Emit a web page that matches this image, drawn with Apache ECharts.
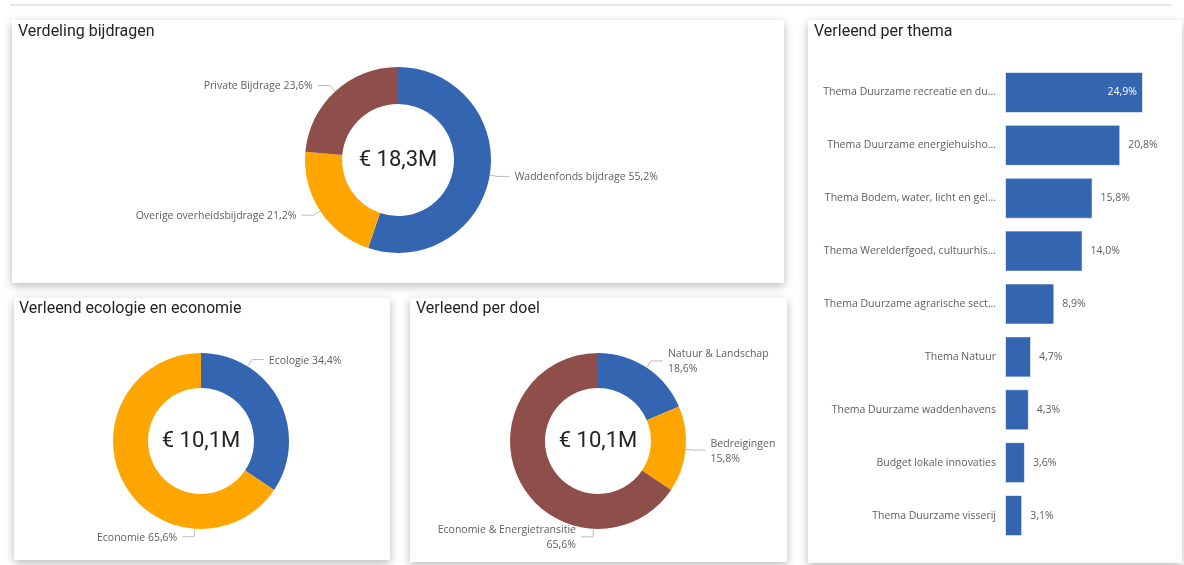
<!DOCTYPE html>
<html>
<head>
<meta charset="utf-8">
<title>Verleend overzicht</title>
<script src="https://cdn.jsdelivr.net/npm/echarts@6/dist/echarts.min.js"></script>
<style>
  html, body { margin: 0; padding: 0; background: #fff; }
  #main { width: 1184px; height: 565px; }
</style>
</head>
<body>
<div id="main"></div>
<script>
  // Verdeling bijdragen (percentages)
  var bijdrageNames = ['Waddenfonds bijdrage', 'Overige overheidsbijdrage', 'Private Bijdrage'];
  var bijdragePct = [55.2, 21.2, 23.6];
  var bijdrageTotal = 18.3;

  // Verleend ecologie en economie
  var ecoNames = ['Ecologie', 'Economie'];
  var ecoPct = [34.4, 65.6];
  var ecoTotal = 10.1;

  // Verleend per doel
  var doelNames = ['Natuur & Landschap', 'Bedreigingen', 'Economie & Energietransitie'];
  var doelPct = [18.6, 15.8, 65.6];
  var doelTotal = 10.1;

  // Verleend per thema
  var themaNames = [
    'Thema Duurzame recreatie en du...',
    'Thema Duurzame energiehuisho...',
    'Thema Bodem, water, licht en gel...',
    'Thema Werelderfgoed, cultuurhis...',
    'Thema Duurzame agrarische sect...',
    'Thema Natuur',
    'Thema Duurzame waddenhavens',
    'Budget lokale innovaties',
    'Thema Duurzame visserij'
  ];
  var themaPct = [24.9, 20.8, 15.8, 14.0, 8.9, 4.7, 4.3, 3.6, 3.1];

  var BLUE = '#3465B0', ORANGE = '#FFA500', BROWN = '#8E4F4A';
  var LABEL_GREY = '#605E5C', TITLE_COL = '#252423';
  var labelFont = '"Open Sans", "Noto Sans", sans-serif';
  var titleFont = 'Roboto, "Noto Sans", sans-serif';

  function nl(v) { return v.toFixed(1).replace('.', ','); }
  function money(v) { return '€ ' + nl(v) + 'M'; }

  // label placement like Power BI: anchor on the ring, short elbow, horizontal tail
  function ringLabels(cx, cy, r, vals, anchors) {
    var total = vals.reduce(function (a, b) { return a + b; }, 0);
    return function (p) {
      var i = p.dataIndex;
      var a = anchors && anchors[i] != null ? anchors[i] : null;
      if (a == null) {
        var before = 0;
        for (var k = 0; k < i; k++) before += vals[k];
        a = (before + vals[i] / 2) / total * 360;
      }
      var rad = a * Math.PI / 180, s = Math.sin(rad), c = Math.cos(rad);
      var p1 = [cx + r * s, cy - r * c];
      var p2 = [cx + (r + 8) * s, cy - (r + 8) * c];
      var dir = s > 0 ? 1 : -1;
      var p3 = [p2[0] + dir * 12, p2[1]];
      return {
        x: p3[0] + dir * 5, y: p3[1] + 1,
        align: dir > 0 ? 'left' : 'right', verticalAlign: 'middle',
        labelLinePoints: [p1, p2, p3]
      };
    };
  }

  function donut(names, vals, colors, center, radius, fmt, anchors) {
    return {
      type: 'pie',
      center: center,
      radius: radius,
      startAngle: 90,
      silent: true,
      avoidLabelOverlap: false,
      data: names.map(function (n, i) {
        return { name: n, value: vals[i], itemStyle: { color: colors[i] } };
      }),
      label: {
        show: true, position: 'outside',
        color: LABEL_GREY, fontFamily: labelFont, fontSize: 10.5, lineHeight: 15,
        formatter: fmt
      },
      labelLine: { show: true, lineStyle: { color: '#BEBBB8', width: 1 } },
      labelLayout: ringLabels(center[0], center[1], radius[1], vals, anchors)
    };
  }

  function panel(x, y, w, h) {
    return {
      type: 'rect', z: 0,
      shape: { x: x, y: y, width: w, height: h },
      style: { fill: '#fff', shadowBlur: 9, shadowOffsetY: 3, shadowColor: 'rgba(0,0,0,0.28)' }
    };
  }

  function heading(text, x, y) {
    return { text: text, left: x, top: y, padding: 0,
      textStyle: { fontFamily: titleFont, fontSize: 16, fontWeight: 'normal', color: TITLE_COL } };
  }
  function centerText(text, x, y) {
    return { text: text, left: x, top: y, padding: 0, textAlign: 'center', textVerticalAlign: 'middle',
      textStyle: { fontFamily: titleFont, fontSize: 22, fontWeight: 'normal', color: TITLE_COL } };
  }

  var chart = echarts.init(document.getElementById('main'));

  var option = {
    backgroundColor: '#fff',
    animation: false,
    graphic: [
      { type: 'line', z: 0, shape: { x1: 10, y1: 5, x2: 1172, y2: 5 }, style: { stroke: '#E6E6EE', lineWidth: 2 } },
      panel(12, 20, 772, 263),
      panel(14, 298, 376, 262),
      panel(410, 298, 377, 264),
      panel(808, 20, 374, 543)
    ],
    title: [
      heading('Verdeling bijdragen', 18, 24),
      heading('Verleend ecologie en economie', 19, 301),
      heading('Verleend per doel', 416, 301),
      heading('Verleend per thema', 814, 24),
      centerText(money(bijdrageTotal), 398, 160),
      centerText(money(ecoTotal), 201, 441),
      centerText(money(doelTotal), 598, 441)
    ],
    grid: { left: 1005, width: 138, top: 66, height: 476 },
    xAxis: { type: 'value', min: 0, max: 'dataMax', show: false },
    yAxis: {
      type: 'category', inverse: true, data: themaNames,
      axisLine: { show: false }, axisTick: { show: false }, splitLine: { show: false },
      axisLabel: { color: LABEL_GREY, fontFamily: labelFont, fontSize: 10.5, margin: 9 }
    },
    series: [
      donut(bijdrageNames, bijdragePct, [BLUE, ORANGE, BROWN], [398, 160], [56, 93],
        function (p) { return p.name + ' ' + nl(p.value) + '%'; }),
      donut(ecoNames, ecoPct, [BLUE, ORANGE], [201, 441], [53, 88],
        function (p) { return p.name + ' ' + nl(p.value) + '%'; }, [32, 184]),
      donut(doelNames, doelPct, [BLUE, ORANGE, BROWN], [598, 441], [53, 88],
        function (p) { return p.name + '\n' + nl(p.value) + '%'; }, [null, null, 183]),
      {
        type: 'bar',
        silent: true,
        barWidth: 41,
        itemStyle: { color: BLUE, borderColor: 'rgba(255,255,255,0.6)', borderWidth: 1 },
        data: themaPct.map(function (v, i) {
          return i === 0
            ? { value: v, label: { position: 'insideRight', distance: 6, color: '#fff' } }
            : v;
        }),
        label: {
          show: true, position: 'right', distance: 8,
          color: LABEL_GREY, fontFamily: labelFont, fontSize: 10.5,
          formatter: function (p) { return nl(p.value) + '%'; }
        }
      }
    ]
  };

  chart.setOption(option);
</script>
</body>
</html>
